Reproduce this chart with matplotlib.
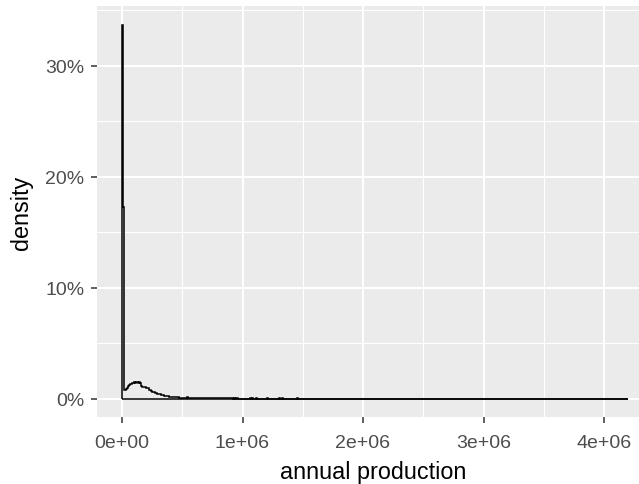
import numpy as np
import matplotlib
matplotlib.use("Agg")
import matplotlib.pyplot as plt
from matplotlib.ticker import FuncFormatter, MultipleLocator

# Share of observations per 10,000-unit production bin (percent), 0 to 1.5e6
share_pct = [
    33.65, 17.25, 0.85, 0.92, 1.02, 1.18, 1.30, 1.34, 1.40, 1.46,
    1.50, 1.47, 1.51, 1.46, 1.49, 1.42, 1.15, 1.10, 1.06, 1.09,
    1.00, 0.95, 0.80, 0.78, 0.70, 0.63, 0.60, 0.55, 0.50, 0.48,
    0.45, 0.42, 0.40, 0.36, 0.33, 0.30, 0.28, 0.26, 0.24, 0.22,
    0.20, 0.19, 0.18, 0.17, 0.16, 0.15, 0.14, 0.13, 0.13, 0.12,
    0.12, 0.11, 0.11, 0.10, 0.16, 0.09, 0.09, 0.08, 0.08, 0.08,
    0.08, 0.07, 0.08, 0.07, 0.07, 0.07, 0.07, 0.06, 0.07, 0.06,
    0.06, 0.12, 0.06, 0.06, 0.06, 0.06, 0.05, 0.06, 0.05, 0.06,
    0.05, 0.05, 0.05, 0.05, 0.05, 0.05, 0.05, 0.05, 0.05, 0.05,
    0.05, 0.05, 0.04, 0.05, 0.04, 0.05, 0.04, 0.04, 0.04, 0.04,
    0.04, 0.04, 0.04, 0.04, 0.04, 0.04, 0.10, 0.04, 0.11, 0.04,
    0.04, 0.10, 0.04, 0.03, 0.04, 0.03, 0.03, 0.04, 0.03, 0.03,
    0.09, 0.03, 0.03, 0.03, 0.03, 0.03, 0.03, 0.02, 0.03, 0.02,
    0.10, 0.02, 0.02, 0.09, 0.02, 0.02, 0.02, 0.02, 0.02, 0.02,
    0.02, 0.02, 0.02, 0.02, 0.02, 0.08, 0.02, 0.01, 0.01, 0.01,
]
bin_width = 10_000
max_production = 4.2e6          # largest observed value; bins beyond 1.5e6 are empty
x_ticks = [0, 1e6, 2e6, 3e6, 4e6]
x_tick_labels = ["0e+00", "1e+06", "2e+06", "3e+06", "4e+06"]
y_ticks = [0.0, 0.1, 0.2, 0.3]

values = np.append(np.array(share_pct) / 100.0, 0.0)
edges = np.append(np.arange(len(share_pct) + 1) * bin_width, max_production)

W, H, DPI = 639, 485, 100
plt.rcParams["font.family"] = ["Liberation Sans", "DejaVu Sans"]
fig = plt.figure(figsize=(W / DPI, H / DPI), dpi=DPI, facecolor="white")

# panel placement in pixels
left, right, top, bottom = 97, 639, 7, 418
ax = fig.add_axes([left / W, 1 - bottom / H, (right - left) / W, (bottom - top) / H])
ax.set_facecolor("#EBEBEB")
for s in ax.spines.values():
    s.set_visible(False)

ax.stairs(values, edges, baseline=0, fill=False, color="black", linewidth=1.1, zorder=3)
ax.plot([edges[0], edges[-1]], [0, 0], color="black", linewidth=1.1, zorder=3,
        solid_capstyle="butt")

# data-to-pixel scaling: 0 at x=122 px, 120.5 px per 1e6; 0 at y=400 px, 1111 px per 1.0
x0_px, xs = 122.0, 120.5 / 1e6
ax.set_xlim((left - x0_px) / xs, (right - x0_px) / xs)
y0_px, ys = 400.0, 1111.0
ax.set_ylim((y0_px - bottom) / ys, (y0_px - top) / ys)

ax.set_xticks(x_ticks)
ax.set_xticklabels(x_tick_labels)
ax.set_yticks(y_ticks)
ax.yaxis.set_major_formatter(FuncFormatter(lambda v, p: f"{v*100:.0f}%"))
ax.xaxis.set_minor_locator(MultipleLocator(0.5e6))
ax.yaxis.set_minor_locator(MultipleLocator(0.05))

ax.grid(which="major", color="white", linewidth=1.5)
ax.grid(which="minor", color="white", linewidth=0.8)
ax.set_axisbelow(True)

ax.tick_params(which="major", length=4.0, width=1.1, color="#333333",
               labelcolor="#4D4D4D", labelsize=14)
ax.tick_params(axis="x", which="major", pad=8.5)
ax.tick_params(axis="y", which="major", pad=5.0)
ax.tick_params(which="minor", length=0)

ax.set_xlabel("annual production", fontsize=16.8, color="black")
ax.set_ylabel("density", fontsize=16.8, color="black")
ax.xaxis.set_label_coords((373 - left) / (right - left), -(473 - bottom) / (bottom - top))
ax.yaxis.set_label_coords(-(left - 21.5) / (right - left), (bottom - 213) / (bottom - top))
ax.xaxis.label.set_va("center")
ax.yaxis.label.set_va("center")

fig.savefig("out.png", dpi=DPI, facecolor="white")
